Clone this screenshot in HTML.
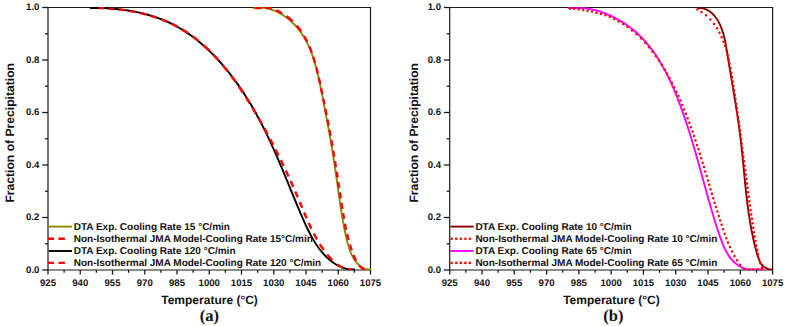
<!DOCTYPE html>
<html><head><meta charset="utf-8"><title>Fraction of Precipitation</title>
<style>
*{margin:0;padding:0}
html,body{width:787px;height:326px;overflow:hidden;background:#fff}
svg{display:block}
text{text-rendering:geometricPrecision}
.tk{font:bold 9.6px 'Liberation Sans', sans-serif;fill:#111}
.lg{font:bold 10px 'Liberation Sans', sans-serif;fill:#111}
.ti{font:bold 12px 'Liberation Sans', sans-serif;fill:#111}
.yt{font-size:12.15px}
.lb{font:bold 16.5px 'Liberation Serif', serif;fill:#111}
</style></head>
<body>
<svg width="787" height="326" viewBox="0 0 787 326">
<rect width="787" height="326" fill="#fff"/>
<path d="M48.00,7.50 H370.50 V270.00 H48.00 Z" fill="none" stroke="#1a1a1a" stroke-width="1.2"/>
<line x1="48.00" y1="270.00" x2="48.00" y2="274.60" stroke="#1a1a1a" stroke-width="1.3"/>
<text x="48.00" y="286.3" text-anchor="middle" class="tk">925</text>
<line x1="64.12" y1="270.00" x2="64.12" y2="272.80" stroke="#1a1a1a" stroke-width="1.3"/>
<line x1="80.25" y1="270.00" x2="80.25" y2="274.60" stroke="#1a1a1a" stroke-width="1.3"/>
<text x="80.25" y="286.3" text-anchor="middle" class="tk">940</text>
<line x1="96.38" y1="270.00" x2="96.38" y2="272.80" stroke="#1a1a1a" stroke-width="1.3"/>
<line x1="112.50" y1="270.00" x2="112.50" y2="274.60" stroke="#1a1a1a" stroke-width="1.3"/>
<text x="112.50" y="286.3" text-anchor="middle" class="tk">955</text>
<line x1="128.62" y1="270.00" x2="128.62" y2="272.80" stroke="#1a1a1a" stroke-width="1.3"/>
<line x1="144.75" y1="270.00" x2="144.75" y2="274.60" stroke="#1a1a1a" stroke-width="1.3"/>
<text x="144.75" y="286.3" text-anchor="middle" class="tk">970</text>
<line x1="160.88" y1="270.00" x2="160.88" y2="272.80" stroke="#1a1a1a" stroke-width="1.3"/>
<line x1="177.00" y1="270.00" x2="177.00" y2="274.60" stroke="#1a1a1a" stroke-width="1.3"/>
<text x="177.00" y="286.3" text-anchor="middle" class="tk">985</text>
<line x1="193.12" y1="270.00" x2="193.12" y2="272.80" stroke="#1a1a1a" stroke-width="1.3"/>
<line x1="209.25" y1="270.00" x2="209.25" y2="274.60" stroke="#1a1a1a" stroke-width="1.3"/>
<text x="209.25" y="286.3" text-anchor="middle" class="tk">1000</text>
<line x1="225.38" y1="270.00" x2="225.38" y2="272.80" stroke="#1a1a1a" stroke-width="1.3"/>
<line x1="241.50" y1="270.00" x2="241.50" y2="274.60" stroke="#1a1a1a" stroke-width="1.3"/>
<text x="241.50" y="286.3" text-anchor="middle" class="tk">1015</text>
<line x1="257.62" y1="270.00" x2="257.62" y2="272.80" stroke="#1a1a1a" stroke-width="1.3"/>
<line x1="273.75" y1="270.00" x2="273.75" y2="274.60" stroke="#1a1a1a" stroke-width="1.3"/>
<text x="273.75" y="286.3" text-anchor="middle" class="tk">1030</text>
<line x1="289.88" y1="270.00" x2="289.88" y2="272.80" stroke="#1a1a1a" stroke-width="1.3"/>
<line x1="306.00" y1="270.00" x2="306.00" y2="274.60" stroke="#1a1a1a" stroke-width="1.3"/>
<text x="306.00" y="286.3" text-anchor="middle" class="tk">1045</text>
<line x1="322.12" y1="270.00" x2="322.12" y2="272.80" stroke="#1a1a1a" stroke-width="1.3"/>
<line x1="338.25" y1="270.00" x2="338.25" y2="274.60" stroke="#1a1a1a" stroke-width="1.3"/>
<text x="338.25" y="286.3" text-anchor="middle" class="tk">1060</text>
<line x1="354.38" y1="270.00" x2="354.38" y2="272.80" stroke="#1a1a1a" stroke-width="1.3"/>
<line x1="370.50" y1="270.00" x2="370.50" y2="274.60" stroke="#1a1a1a" stroke-width="1.3"/>
<text x="370.50" y="286.3" text-anchor="middle" class="tk">1075</text>
<line x1="42.20" y1="270.00" x2="48.00" y2="270.00" stroke="#1a1a1a" stroke-width="1.3"/>
<text x="39.40" y="272.90" text-anchor="end" class="tk">0.0</text>
<line x1="45.00" y1="243.75" x2="48.00" y2="243.75" stroke="#1a1a1a" stroke-width="1.3"/>
<line x1="42.20" y1="217.50" x2="48.00" y2="217.50" stroke="#1a1a1a" stroke-width="1.3"/>
<text x="39.40" y="220.40" text-anchor="end" class="tk">0.2</text>
<line x1="45.00" y1="191.25" x2="48.00" y2="191.25" stroke="#1a1a1a" stroke-width="1.3"/>
<line x1="42.20" y1="165.00" x2="48.00" y2="165.00" stroke="#1a1a1a" stroke-width="1.3"/>
<text x="39.40" y="167.90" text-anchor="end" class="tk">0.4</text>
<line x1="45.00" y1="138.75" x2="48.00" y2="138.75" stroke="#1a1a1a" stroke-width="1.3"/>
<line x1="42.20" y1="112.50" x2="48.00" y2="112.50" stroke="#1a1a1a" stroke-width="1.3"/>
<text x="39.40" y="115.40" text-anchor="end" class="tk">0.6</text>
<line x1="45.00" y1="86.25" x2="48.00" y2="86.25" stroke="#1a1a1a" stroke-width="1.3"/>
<line x1="42.20" y1="60.00" x2="48.00" y2="60.00" stroke="#1a1a1a" stroke-width="1.3"/>
<text x="39.40" y="62.90" text-anchor="end" class="tk">0.8</text>
<line x1="45.00" y1="33.75" x2="48.00" y2="33.75" stroke="#1a1a1a" stroke-width="1.3"/>
<line x1="42.20" y1="7.50" x2="48.00" y2="7.50" stroke="#1a1a1a" stroke-width="1.3"/>
<text x="39.40" y="10.40" text-anchor="end" class="tk">1.0</text>
<clipPath id="clip48"><rect x="47.50" y="6.00" width="323.50" height="264.20"/></clipPath>
<g clip-path="url(#clip48)">
<path d="M252.89,8.10 L254.99,8.10 L257.05,8.10 L259.10,8.10 L261.11,8.10 L263.11,8.10 L265.07,8.10 L267.01,8.40 L268.92,8.86 L270.80,9.40 L272.64,10.02 L274.46,10.71 L276.25,11.47 L278.01,12.30 L279.73,13.20 L281.42,14.16 L283.08,15.18 L284.70,16.26 L286.28,17.40 L287.83,18.59 L289.35,19.83 L290.82,21.12 L292.26,22.45 L293.66,23.83 L295.01,25.25 L296.33,26.71 L297.61,28.20 L298.84,29.73 L300.03,31.29 L301.18,32.87 L302.29,34.49 L303.35,36.12 L304.36,37.78 L305.33,39.45 L306.26,41.14 L307.15,42.85 L308.00,44.58 L308.81,46.33 L309.59,48.09 L310.33,49.87 L311.05,51.66 L311.73,53.47 L312.39,55.29 L313.02,57.13 L313.62,58.98 L314.21,60.83 L314.77,62.70 L315.32,64.59 L315.85,66.48 L316.36,68.38 L316.85,70.29 L317.33,72.20 L317.80,74.13 L318.26,76.06 L318.70,77.99 L319.13,79.94 L319.55,81.88 L319.97,83.84 L320.37,85.79 L320.77,87.75 L321.16,89.71 L321.55,91.67 L321.93,93.63 L322.31,95.60 L322.69,97.56 L323.06,99.52 L323.44,101.48 L323.81,103.44 L324.18,105.40 L324.55,107.36 L324.93,109.31 L325.30,111.26 L325.67,113.21 L326.03,115.16 L326.40,117.11 L326.77,119.06 L327.13,121.00 L327.49,122.94 L327.85,124.88 L328.21,126.82 L328.57,128.76 L328.92,130.70 L329.27,132.64 L329.62,134.57 L329.96,136.51 L330.31,138.44 L330.64,140.37 L330.98,142.30 L331.31,144.23 L331.64,146.15 L331.97,148.08 L332.29,150.00 L332.61,151.93 L332.93,153.85 L333.24,155.77 L333.54,157.69 L333.84,159.61 L334.14,161.53 L334.43,163.45 L334.72,165.36 L335.00,167.28 L335.28,169.19 L335.56,171.11 L335.83,173.02 L336.10,174.94 L336.36,176.85 L336.63,178.76 L336.89,180.68 L337.16,182.59 L337.42,184.51 L337.68,186.43 L337.94,188.35 L338.21,190.27 L338.47,192.19 L338.74,194.11 L339.01,196.04 L339.29,197.97 L339.56,199.90 L339.85,201.83 L340.13,203.77 L340.42,205.71 L340.72,207.65 L341.02,209.60 L341.34,211.55 L341.65,213.50 L341.98,215.46 L342.31,217.42 L342.65,219.39 L343.00,221.36 L343.37,223.34 L343.74,225.32 L344.12,227.31 L344.51,229.30 L344.92,231.30 L345.33,233.31 L345.76,235.32 L346.21,237.33 L346.67,239.35 L347.16,241.35 L347.68,243.34 L348.23,245.31 L348.82,247.25 L349.45,249.16 L350.12,251.03 L350.85,252.86 L351.63,254.63 L352.48,256.35 L353.39,258.01 L354.37,259.60 L355.42,261.12 L356.55,262.55 L357.76,263.90 L359.06,265.16 L360.46,266.31 L361.94,267.32 L363.53,268.17 L365.23,268.84 L367.03,269.30 L368.95,269.50 L370.99,269.50" fill="none" stroke="#8a8a00" stroke-width="1.9" stroke-linejoin="round" />
<path d="M89.99,8.10 L92.55,8.10 L95.10,8.10 L97.65,8.10 L100.21,8.10 L102.76,8.10 L105.31,8.14 L107.86,8.31 L110.41,8.50 L112.95,8.71 L115.49,8.95 L118.03,9.21 L120.56,9.51 L123.08,9.83 L125.60,10.18 L128.10,10.56 L130.60,10.97 L133.09,11.41 L135.57,11.89 L138.04,12.40 L140.50,12.94 L142.94,13.52 L145.38,14.13 L147.80,14.78 L150.20,15.47 L152.59,16.20 L154.97,16.97 L157.32,17.78 L159.66,18.63 L161.99,19.52 L164.29,20.45 L166.58,21.43 L168.84,22.45 L171.09,23.52 L173.31,24.64 L175.51,25.80 L177.69,27.00 L179.86,28.24 L182.00,29.53 L184.12,30.85 L186.22,32.22 L188.29,33.62 L190.35,35.06 L192.39,36.53 L194.40,38.05 L196.40,39.59 L198.37,41.17 L200.32,42.79 L202.26,44.43 L204.17,46.11 L206.06,47.81 L207.93,49.55 L209.78,51.31 L211.60,53.10 L213.41,54.91 L215.20,56.75 L216.96,58.62 L218.71,60.51 L220.43,62.42 L222.13,64.35 L223.81,66.30 L225.47,68.27 L227.11,70.26 L228.73,72.27 L230.33,74.29 L231.90,76.33 L233.46,78.39 L234.99,80.46 L236.50,82.54 L238.00,84.63 L239.47,86.74 L240.92,88.85 L242.35,90.98 L243.75,93.11 L245.14,95.25 L246.51,97.40 L247.85,99.55 L249.17,101.70 L250.48,103.86 L251.76,106.03 L253.02,108.20 L254.27,110.37 L255.50,112.55 L256.71,114.74 L257.90,116.93 L259.08,119.12 L260.24,121.32 L261.39,123.53 L262.52,125.74 L263.64,127.95 L264.75,130.17 L265.84,132.40 L266.92,134.63 L267.99,136.86 L269.05,139.11 L270.10,141.35 L271.14,143.60 L272.17,145.86 L273.19,148.12 L274.20,150.39 L275.21,152.66 L276.21,154.94 L277.20,157.23 L278.19,159.51 L279.17,161.81 L280.15,164.11 L281.12,166.42 L282.09,168.73 L283.06,171.05 L284.03,173.37 L284.99,175.70 L285.96,178.03 L286.92,180.37 L287.89,182.72 L288.85,185.07 L289.82,187.43 L290.79,189.79 L291.76,192.17 L292.74,194.54 L293.72,196.92 L294.70,199.31 L295.69,201.71 L296.69,204.11 L297.69,206.51 L298.70,208.92 L299.71,211.34 L300.73,213.77 L301.77,216.19 L302.82,218.61 L303.88,221.03 L304.97,223.43 L306.07,225.82 L307.20,228.19 L308.35,230.54 L309.53,232.86 L310.74,235.15 L311.98,237.41 L313.26,239.63 L314.57,241.81 L315.92,243.94 L317.32,246.02 L318.76,248.05 L320.25,250.02 L321.78,251.93 L323.37,253.77 L325.01,255.54 L326.71,257.24 L328.47,258.87 L330.28,260.41 L332.16,261.87 L334.11,263.24 L336.13,264.50 L338.21,265.66 L340.37,266.71 L342.60,267.62 L344.92,268.41 L347.31,269.05 L349.78,269.50 L352.34,269.50 L354.99,269.50" fill="none" stroke="#000" stroke-width="1.9" stroke-linejoin="round" />
<path d="M255.33,8.10 L255.74,8.10 L256.17,8.10 L256.61,8.10 L257.04,8.10 L257.47,8.10 L257.90,8.10 L258.33,8.10 L258.75,8.10 L259.18,8.10 L259.61,8.10 L260.03,8.10 L260.45,8.10 L260.87,8.10 L261.30,8.10 M265.75,8.10 L266.16,8.10 L266.67,8.10 L267.18,8.10 L267.68,8.10 L268.18,8.10 L268.68,8.10 L269.18,8.11 L269.68,8.23 L270.17,8.35 L270.67,8.47 L271.16,8.60 L271.65,8.74 M276.17,10.31 L276.60,10.49 L277.07,10.69 L277.53,10.90 L277.99,11.11 L278.45,11.32 L278.90,11.54 L279.35,11.77 L279.81,12.00 L280.25,12.23 L280.70,12.47 L281.14,12.72 L281.58,12.97 L282.02,13.22 M286.59,16.23 L287.01,16.54 L287.49,16.91 L287.98,17.29 L288.46,17.67 L288.93,18.05 L289.40,18.44 L289.87,18.84 L290.33,19.24 L290.79,19.64 L291.25,20.05 L291.70,20.46 L292.15,20.88 L292.59,21.30 M296.74,25.71 L297.11,26.14 L297.50,26.60 L297.89,27.07 L298.27,27.55 L298.65,28.02 L299.02,28.50 L299.39,28.98 L299.75,29.46 L300.11,29.95 L300.46,30.44 L300.82,30.93 L301.16,31.43 M304.17,36.13 L304.39,36.50 L304.64,36.94 L304.89,37.37 L305.14,37.81 L305.38,38.25 L305.62,38.69 L305.86,39.13 L306.10,39.57 L306.33,40.02 L306.56,40.46 L306.79,40.91 L307.01,41.36 L307.24,41.81 M309.42,46.55 L309.58,46.94 L309.78,47.41 L309.97,47.87 L310.16,48.34 L310.35,48.81 L310.54,49.28 L310.73,49.75 L310.91,50.22 L311.09,50.70 L311.27,51.17 L311.45,51.65 L311.63,52.12 L311.78,52.55 M313.30,56.97 L313.45,57.43 L313.60,57.92 L313.76,58.41 L313.91,58.90 L314.06,59.39 L314.21,59.88 L314.36,60.37 L314.51,60.86 L314.65,61.35 L314.79,61.85 L314.94,62.34 L315.08,62.84 M316.32,67.39 L316.43,67.82 L316.55,68.32 L316.68,68.82 L316.81,69.32 L316.93,69.83 L317.06,70.33 L317.18,70.83 L317.31,71.34 L317.43,71.84 L317.55,72.34 L317.67,72.85 L317.79,73.35 M318.81,77.81 L318.92,78.31 L319.03,78.82 L319.15,79.33 L319.26,79.84 L319.37,80.34 L319.48,80.85 L319.59,81.36 L319.70,81.87 L319.81,82.37 L319.92,82.88 L320.03,83.39 L320.12,83.81 M321.06,88.23 L321.15,88.66 L321.25,89.17 L321.36,89.67 L321.47,90.18 L321.57,90.68 L321.68,91.19 L321.79,91.70 L321.89,92.20 L322.00,92.71 L322.10,93.21 L322.21,93.71 L322.32,94.22 M323.24,98.65 L323.33,99.06 L323.43,99.56 L323.53,100.06 L323.64,100.57 L323.74,101.07 L323.85,101.57 L323.95,102.07 L324.05,102.58 L324.16,103.08 L324.26,103.58 L324.36,104.08 L324.47,104.58 M325.38,109.07 L325.47,109.50 L325.57,110.00 L325.67,110.50 L325.77,111.00 L325.88,111.50 L325.98,112.00 L326.08,112.50 L326.18,113.00 L326.28,113.50 L326.38,114.00 L326.48,114.50 L326.58,115.00 M327.47,119.49 L327.55,119.90 L327.65,120.40 L327.74,120.90 L327.84,121.40 L327.94,121.89 L328.04,122.39 L328.13,122.89 L328.23,123.39 L328.33,123.89 L328.42,124.39 L328.52,124.89 L328.62,125.39 M329.48,129.91 L329.56,130.37 L329.66,130.87 L329.75,131.37 L329.85,131.87 L329.94,132.36 L330.03,132.86 L330.12,133.36 L330.22,133.86 L330.31,134.36 L330.40,134.86 L330.49,135.35 L330.59,135.85 M331.40,140.33 L331.47,140.73 L331.56,141.23 L331.65,141.73 L331.74,142.23 L331.83,142.73 L331.92,143.22 L332.00,143.72 L332.09,144.22 L332.18,144.72 L332.27,145.22 L332.35,145.72 L332.44,146.21 M333.22,150.75 L333.30,151.20 L333.38,151.70 L333.46,152.20 L333.55,152.70 L333.63,153.19 L333.72,153.69 L333.80,154.19 L333.88,154.69 L333.97,155.19 L334.05,155.69 L334.13,156.19 L334.22,156.69 M334.95,161.17 L335.02,161.58 L335.10,162.08 L335.18,162.58 L335.26,163.08 L335.34,163.58 L335.42,164.08 L335.50,164.58 L335.58,165.08 L335.66,165.58 L335.74,166.08 L335.82,166.59 L335.90,167.09 M336.62,171.59 L336.68,172.00 L336.76,172.50 L336.84,173.00 L336.92,173.50 L337.00,174.01 L337.08,174.51 L337.15,175.01 L337.23,175.51 L337.31,176.02 L337.39,176.52 L337.47,177.02 L337.55,177.53 M338.24,182.01 L338.31,182.46 L338.39,182.97 L338.47,183.47 L338.55,183.98 L338.62,184.48 L338.70,184.99 L338.78,185.49 L338.86,186.00 L338.94,186.50 L339.01,187.01 L339.09,187.51 L339.17,188.01 M339.85,192.43 L339.92,192.88 L340.00,193.39 L340.08,193.90 L340.16,194.41 L340.23,194.92 L340.31,195.43 L340.39,195.93 L340.47,196.44 L340.55,196.95 L340.63,197.46 L340.71,197.97 L340.78,198.43 M341.47,202.85 L341.53,203.28 L341.61,203.79 L341.69,204.30 L341.77,204.82 L341.85,205.33 L341.93,205.84 L342.01,206.35 L342.09,206.87 L342.17,207.38 L342.26,207.89 L342.34,208.41 L342.41,208.85 M343.12,213.27 L343.20,213.75 L343.29,214.26 L343.37,214.78 L343.46,215.29 L343.54,215.80 L343.63,216.32 L343.72,216.83 L343.81,217.34 L343.90,217.86 L343.98,218.37 L344.07,218.88 M344.95,223.69 L345.03,224.10 L345.13,224.61 L345.23,225.12 L345.33,225.63 L345.43,226.14 L345.53,226.65 L345.63,227.16 L345.73,227.67 L345.84,228.17 L345.94,228.68 L346.05,229.19 L346.16,229.69 M347.14,234.11 L347.24,234.53 L347.36,235.03 L347.48,235.53 L347.60,236.03 L347.72,236.53 L347.84,237.03 L347.97,237.53 L348.09,238.03 L348.22,238.52 L348.35,239.02 L348.48,239.51 L348.61,240.01 M349.89,244.53 L350.03,245.01 L350.18,245.49 L350.33,245.97 L350.48,246.46 L350.64,246.94 L350.79,247.42 L350.95,247.90 L351.10,248.38 L351.26,248.86 L351.43,249.34 L351.59,249.82 L351.75,250.29 M353.48,254.95 L353.65,255.36 L353.84,255.83 L354.03,256.29 L354.22,256.75 L354.41,257.21 L354.60,257.66 L354.80,258.12 L355.01,258.57 L355.21,259.02 L355.42,259.47 L355.63,259.91 L355.85,260.35 L356.07,260.78 M359.06,265.37 L359.39,265.75 L359.77,266.16 L360.17,266.56 L360.57,266.94 L360.99,267.31 L361.43,267.66 L361.88,268.00 L362.34,268.32 L362.83,268.62 L363.32,268.90 L363.84,269.17 L364.37,269.42 L364.93,269.50" fill="none" stroke="#ff0000" stroke-width="2.4" stroke-linejoin="round"/>
<path d="M98.40,8.10 L98.78,8.10 L99.16,8.10 L99.55,8.10 L99.93,8.10 L100.31,8.10 L100.69,8.10 L101.08,8.10 L101.46,8.10 L101.84,8.11 L102.23,8.12 L102.61,8.14 L103.00,8.15 L103.38,8.17 L103.77,8.19 L104.15,8.21 M108.67,8.47 L109.17,8.50 L109.69,8.54 L110.20,8.58 L110.72,8.62 L111.24,8.66 L111.76,8.70 L112.27,8.74 L112.79,8.79 L113.31,8.83 L113.83,8.88 L114.34,8.93 M119.17,9.44 L119.66,9.50 L120.18,9.56 L120.70,9.62 L121.22,9.69 L121.74,9.75 L122.26,9.82 L122.78,9.89 L123.30,9.96 L123.81,10.03 L124.33,10.11 L124.85,10.18 M129.67,10.94 L130.17,11.03 L130.68,11.12 L131.20,11.21 L131.72,11.30 L132.24,11.40 L132.75,11.49 L133.27,11.59 L133.78,11.69 L134.30,11.79 L134.82,11.89 L135.33,11.99 M140.17,13.03 L140.60,13.13 L141.11,13.25 L141.62,13.37 L142.13,13.50 L142.64,13.62 L143.15,13.75 L143.66,13.87 L144.17,14.00 L144.68,14.13 L145.19,14.26 L145.70,14.40 L146.17,14.52 M150.67,15.79 L151.12,15.93 L151.62,16.08 L152.12,16.23 L152.62,16.39 L153.12,16.54 L153.62,16.70 L154.12,16.86 L154.62,17.02 L155.12,17.18 L155.61,17.35 L156.11,17.51 L156.60,17.68 M161.17,19.32 L161.63,19.49 L162.11,19.68 L162.60,19.87 L163.08,20.06 L163.57,20.25 L164.05,20.44 L164.53,20.64 L165.01,20.83 L165.49,21.03 L165.97,21.23 L166.45,21.43 L166.93,21.64 M171.67,23.78 L172.11,23.99 L172.58,24.21 L173.04,24.44 L173.50,24.66 L173.97,24.89 L174.43,25.13 L174.89,25.36 L175.34,25.59 L175.80,25.83 L176.26,26.07 L176.71,26.31 L177.17,26.55 L177.62,26.80 M182.17,29.39 L182.52,29.60 L182.96,29.86 L183.40,30.13 L183.83,30.40 L184.27,30.67 L184.70,30.94 L185.14,31.22 L185.57,31.49 L186.00,31.77 L186.43,32.05 L186.86,32.33 L187.28,32.62 L187.71,32.90 L188.13,33.19 M192.67,36.39 L193.15,36.74 L193.66,37.13 L194.17,37.51 L194.68,37.90 L195.19,38.29 L195.69,38.69 L196.20,39.08 L196.70,39.48 L197.20,39.88 L197.70,40.28 L198.20,40.69 L198.67,41.07 M203.17,44.92 L203.57,45.28 L204.05,45.71 L204.53,46.14 L205.00,46.58 L205.48,47.01 L205.95,47.45 L206.42,47.89 L206.89,48.33 L207.36,48.78 L207.83,49.22 L208.29,49.67 L208.75,50.12 L209.17,50.53 M213.59,55.02 L214.03,55.47 L214.47,55.95 L214.92,56.42 L215.36,56.89 L215.80,57.37 L216.24,57.85 L216.68,58.33 L217.12,58.81 L217.55,59.30 L217.99,59.78 L218.42,60.27 L218.85,60.76 M222.93,65.52 L223.27,65.92 L223.68,66.42 L224.10,66.93 L224.51,67.44 L224.93,67.94 L225.34,68.45 L225.75,68.96 L226.16,69.47 L226.57,69.99 L226.97,70.50 L227.38,71.02 L227.77,71.52 M231.22,76.02 L231.46,76.34 L231.77,76.76 L232.08,77.18 L232.40,77.60 L232.71,78.03 L233.02,78.45 L233.33,78.88 L233.64,79.30 L233.95,79.73 L234.26,80.15 L234.57,80.58 L234.88,81.01 L235.18,81.44 L235.49,81.86 M238.75,86.52 L239.04,86.94 L239.33,87.37 L239.63,87.81 L239.93,88.24 L240.22,88.68 L240.52,89.11 L240.81,89.55 L241.11,89.99 L241.40,90.42 L241.69,90.86 L241.99,91.30 L242.28,91.74 L242.57,92.18 L242.79,92.52 M245.73,97.02 L245.95,97.35 L246.23,97.79 L246.51,98.24 L246.79,98.68 L247.08,99.12 L247.36,99.56 L247.64,100.01 L247.92,100.45 L248.20,100.89 L248.48,101.34 L248.76,101.78 L249.04,102.22 L249.31,102.67 L249.53,103.02 M252.31,107.52 L252.54,107.90 L252.81,108.34 L253.08,108.79 L253.35,109.24 L253.62,109.68 L253.89,110.13 L254.16,110.58 L254.43,111.02 L254.69,111.47 L254.96,111.92 L255.23,112.37 L255.49,112.81 L255.76,113.26 M258.54,118.02 L258.78,118.42 L259.04,118.87 L259.30,119.32 L259.56,119.77 L259.82,120.22 L260.07,120.67 L260.33,121.12 L260.59,121.57 L260.84,122.03 L261.10,122.48 L261.36,122.93 L261.61,123.38 L261.87,123.83 M264.48,128.52 L264.70,128.92 L264.95,129.37 L265.20,129.82 L265.45,130.27 L265.70,130.73 L265.94,131.18 L266.19,131.63 L266.44,132.09 L266.68,132.54 L266.93,133.00 L267.18,133.45 L267.42,133.90 L267.67,134.36 M270.15,139.02 L270.33,139.36 L270.57,139.81 L270.81,140.27 L271.05,140.73 L271.29,141.18 L271.53,141.64 L271.77,142.09 L272.00,142.55 L272.24,143.00 L272.48,143.46 L272.72,143.92 L272.95,144.37 L273.19,144.83 M275.59,149.52 L275.82,149.97 L276.05,150.43 L276.28,150.89 L276.51,151.35 L276.74,151.80 L276.97,152.26 L277.20,152.72 L277.43,153.18 L277.66,153.64 L277.89,154.10 L278.12,154.56 L278.35,155.01 L278.57,155.47 M280.81,160.02 L281.00,160.42 L281.23,160.88 L281.45,161.34 L281.68,161.81 L281.90,162.27 L282.12,162.73 L282.34,163.19 L282.57,163.65 L282.79,164.12 L283.01,164.58 L283.23,165.04 L283.45,165.50 L283.67,165.97 M285.82,170.52 L286.03,170.96 L286.25,171.43 L286.47,171.90 L286.68,172.36 L286.90,172.83 L287.12,173.30 L287.33,173.76 L287.55,174.23 L287.77,174.70 L287.98,175.17 L288.20,175.63 L288.41,176.10 L288.60,176.52 M290.65,181.02 L290.82,181.39 L291.03,181.86 L291.24,182.34 L291.45,182.81 L291.66,183.28 L291.88,183.75 L292.09,184.23 L292.30,184.70 L292.51,185.17 L292.72,185.65 L292.93,186.12 L293.14,186.60 L293.32,187.02 M295.29,191.52 L295.49,191.96 L295.70,192.44 L295.90,192.92 L296.11,193.40 L296.32,193.88 L296.53,194.36 L296.73,194.84 L296.94,195.32 L297.15,195.81 L297.35,196.29 L297.56,196.77 L297.76,197.25 M299.78,202.02 L299.97,202.46 L300.17,202.95 L300.38,203.44 L300.58,203.93 L300.78,204.41 L300.99,204.90 L301.19,205.39 L301.40,205.88 L301.60,206.37 L301.80,206.86 L302.01,207.35 L302.21,207.83 M304.17,212.52 L304.37,212.98 L304.57,213.47 L304.78,213.95 L304.99,214.44 L305.20,214.93 L305.41,215.42 L305.62,215.91 L305.83,216.40 L306.04,216.89 L306.25,217.38 L306.46,217.86 L306.67,218.35 M308.74,223.02 L308.93,223.45 L309.15,223.93 L309.37,224.41 L309.59,224.89 L309.81,225.37 L310.04,225.85 L310.26,226.33 L310.49,226.81 L310.71,227.29 L310.94,227.77 L311.17,228.24 L311.40,228.72 M313.79,233.52 L313.99,233.90 L314.23,234.37 L314.47,234.83 L314.72,235.30 L314.97,235.76 L315.21,236.22 L315.46,236.68 L315.71,237.14 L315.97,237.60 L316.22,238.06 L316.47,238.51 L316.73,238.97 L316.99,239.42 M319.74,244.02 L320.00,244.44 L320.28,244.87 L320.56,245.31 L320.84,245.74 L321.13,246.18 L321.41,246.61 L321.70,247.04 L321.99,247.46 L322.28,247.89 L322.57,248.32 L322.87,248.74 L323.17,249.16 L323.46,249.58 L323.77,250.00 M327.24,254.52 L327.63,254.98 L328.04,255.47 L328.45,255.96 L328.87,256.44 L329.30,256.92 L329.72,257.40 L330.16,257.88 L330.59,258.35 L331.03,258.81 L331.47,259.27 L331.92,259.73 L332.37,260.18 M337.21,264.36 L337.53,264.60 L337.93,264.88 L338.33,265.17 L338.74,265.44 L339.16,265.71 L339.57,265.98 L339.99,266.23 L340.41,266.48 L340.84,266.73 L341.27,266.96 L341.70,267.19 L342.14,267.41 L342.57,267.62 L343.02,267.83 M347.71,269.43 L348.00,269.49 L348.36,269.50 L348.73,269.50 L349.10,269.50 L349.47,269.50 L349.84,269.50 L350.21,269.50 L350.59,269.50 L350.97,269.50 L351.35,269.50 L351.73,269.50" fill="none" stroke="#ff0000" stroke-width="2.4" stroke-linejoin="round"/>
</g>
<line x1="48.60" y1="226.60" x2="72.00" y2="226.60" stroke="#8a8a00" stroke-width="1.9"/>
<text x="73.70" y="230.00" class="lg">DTA Exp. Cooling Rate 15 °C/min</text>
<path d="M48.00,238.80 h6 M58.50,238.80 h6.4" stroke="#ff0000" stroke-width="2.4"/>
<text x="73.70" y="242.20" class="lg">Non-Isothermal JMA Model-Cooling Rate 15°C/min</text>
<line x1="48.60" y1="251.00" x2="72.00" y2="251.00" stroke="#000" stroke-width="1.9"/>
<text x="73.70" y="254.40" class="lg">DTA Exp. Cooling Rate 120 °C/min</text>
<path d="M48.00,262.90 h6 M58.50,262.90 h6.4" stroke="#ff0000" stroke-width="2.4"/>
<text x="73.70" y="266.30" class="lg">Non-Isothermal JMA Model-Cooling Rate 120 °C/min</text>
<text x="209.55" y="303.6" text-anchor="middle" class="ti">Temperature (°C)</text>
<text transform="translate(14.20,132.8) rotate(-90)" text-anchor="middle" class="ti yt">Fraction of Precipitation</text>
<text x="209.35" y="320.5" text-anchor="middle" class="lb">(a)</text>
<path d="M449.70,7.50 H772.60 V270.00 H449.70 Z" fill="none" stroke="#1a1a1a" stroke-width="1.2"/>
<line x1="449.70" y1="270.00" x2="449.70" y2="274.60" stroke="#1a1a1a" stroke-width="1.3"/>
<text x="449.70" y="286.3" text-anchor="middle" class="tk">925</text>
<line x1="465.84" y1="270.00" x2="465.84" y2="272.80" stroke="#1a1a1a" stroke-width="1.3"/>
<line x1="481.99" y1="270.00" x2="481.99" y2="274.60" stroke="#1a1a1a" stroke-width="1.3"/>
<text x="481.99" y="286.3" text-anchor="middle" class="tk">940</text>
<line x1="498.13" y1="270.00" x2="498.13" y2="272.80" stroke="#1a1a1a" stroke-width="1.3"/>
<line x1="514.28" y1="270.00" x2="514.28" y2="274.60" stroke="#1a1a1a" stroke-width="1.3"/>
<text x="514.28" y="286.3" text-anchor="middle" class="tk">955</text>
<line x1="530.42" y1="270.00" x2="530.42" y2="272.80" stroke="#1a1a1a" stroke-width="1.3"/>
<line x1="546.57" y1="270.00" x2="546.57" y2="274.60" stroke="#1a1a1a" stroke-width="1.3"/>
<text x="546.57" y="286.3" text-anchor="middle" class="tk">970</text>
<line x1="562.72" y1="270.00" x2="562.72" y2="272.80" stroke="#1a1a1a" stroke-width="1.3"/>
<line x1="578.86" y1="270.00" x2="578.86" y2="274.60" stroke="#1a1a1a" stroke-width="1.3"/>
<text x="578.86" y="286.3" text-anchor="middle" class="tk">985</text>
<line x1="595.00" y1="270.00" x2="595.00" y2="272.80" stroke="#1a1a1a" stroke-width="1.3"/>
<line x1="611.15" y1="270.00" x2="611.15" y2="274.60" stroke="#1a1a1a" stroke-width="1.3"/>
<text x="611.15" y="286.3" text-anchor="middle" class="tk">1000</text>
<line x1="627.30" y1="270.00" x2="627.30" y2="272.80" stroke="#1a1a1a" stroke-width="1.3"/>
<line x1="643.44" y1="270.00" x2="643.44" y2="274.60" stroke="#1a1a1a" stroke-width="1.3"/>
<text x="643.44" y="286.3" text-anchor="middle" class="tk">1015</text>
<line x1="659.59" y1="270.00" x2="659.59" y2="272.80" stroke="#1a1a1a" stroke-width="1.3"/>
<line x1="675.73" y1="270.00" x2="675.73" y2="274.60" stroke="#1a1a1a" stroke-width="1.3"/>
<text x="675.73" y="286.3" text-anchor="middle" class="tk">1030</text>
<line x1="691.88" y1="270.00" x2="691.88" y2="272.80" stroke="#1a1a1a" stroke-width="1.3"/>
<line x1="708.02" y1="270.00" x2="708.02" y2="274.60" stroke="#1a1a1a" stroke-width="1.3"/>
<text x="708.02" y="286.3" text-anchor="middle" class="tk">1045</text>
<line x1="724.16" y1="270.00" x2="724.16" y2="272.80" stroke="#1a1a1a" stroke-width="1.3"/>
<line x1="740.31" y1="270.00" x2="740.31" y2="274.60" stroke="#1a1a1a" stroke-width="1.3"/>
<text x="740.31" y="286.3" text-anchor="middle" class="tk">1060</text>
<line x1="756.46" y1="270.00" x2="756.46" y2="272.80" stroke="#1a1a1a" stroke-width="1.3"/>
<line x1="772.60" y1="270.00" x2="772.60" y2="274.60" stroke="#1a1a1a" stroke-width="1.3"/>
<text x="772.60" y="286.3" text-anchor="middle" class="tk">1075</text>
<line x1="443.90" y1="270.00" x2="449.70" y2="270.00" stroke="#1a1a1a" stroke-width="1.3"/>
<text x="441.10" y="272.90" text-anchor="end" class="tk">0.0</text>
<line x1="446.70" y1="243.75" x2="449.70" y2="243.75" stroke="#1a1a1a" stroke-width="1.3"/>
<line x1="443.90" y1="217.50" x2="449.70" y2="217.50" stroke="#1a1a1a" stroke-width="1.3"/>
<text x="441.10" y="220.40" text-anchor="end" class="tk">0.2</text>
<line x1="446.70" y1="191.25" x2="449.70" y2="191.25" stroke="#1a1a1a" stroke-width="1.3"/>
<line x1="443.90" y1="165.00" x2="449.70" y2="165.00" stroke="#1a1a1a" stroke-width="1.3"/>
<text x="441.10" y="167.90" text-anchor="end" class="tk">0.4</text>
<line x1="446.70" y1="138.75" x2="449.70" y2="138.75" stroke="#1a1a1a" stroke-width="1.3"/>
<line x1="443.90" y1="112.50" x2="449.70" y2="112.50" stroke="#1a1a1a" stroke-width="1.3"/>
<text x="441.10" y="115.40" text-anchor="end" class="tk">0.6</text>
<line x1="446.70" y1="86.25" x2="449.70" y2="86.25" stroke="#1a1a1a" stroke-width="1.3"/>
<line x1="443.90" y1="60.00" x2="449.70" y2="60.00" stroke="#1a1a1a" stroke-width="1.3"/>
<text x="441.10" y="62.90" text-anchor="end" class="tk">0.8</text>
<line x1="446.70" y1="33.75" x2="449.70" y2="33.75" stroke="#1a1a1a" stroke-width="1.3"/>
<line x1="443.90" y1="7.50" x2="449.70" y2="7.50" stroke="#1a1a1a" stroke-width="1.3"/>
<text x="441.10" y="10.40" text-anchor="end" class="tk">1.0</text>
<clipPath id="clip449"><rect x="449.20" y="6.00" width="323.90" height="264.20"/></clipPath>
<g clip-path="url(#clip449)">
<path d="M697.40,8.10 L699.42,8.10 L701.33,8.10 L703.15,8.31 L704.87,8.87 L706.50,9.56 L708.04,10.38 L709.49,11.30 L710.86,12.32 L712.16,13.44 L713.37,14.65 L714.51,15.93 L715.59,17.27 L716.59,18.68 L717.53,20.13 L718.41,21.63 L719.23,23.16 L719.99,24.73 L720.70,26.33 L721.37,27.96 L721.98,29.62 L722.56,31.31 L723.09,33.03 L723.59,34.76 L724.05,36.52 L724.48,38.30 L724.89,40.09 L725.26,41.89 L725.62,43.71 L725.96,45.54 L726.28,47.37 L726.59,49.21 L726.89,51.05 L727.19,52.89 L727.48,54.73 L727.77,56.57 L728.06,58.40 L728.35,60.23 L728.65,62.05 L728.94,63.87 L729.24,65.68 L729.54,67.49 L729.84,69.29 L730.14,71.09 L730.44,72.89 L730.74,74.68 L731.04,76.47 L731.34,78.26 L731.64,80.04 L731.94,81.82 L732.23,83.60 L732.53,85.37 L732.83,87.15 L733.13,88.92 L733.42,90.69 L733.72,92.45 L734.01,94.22 L734.31,95.98 L734.60,97.75 L734.89,99.51 L735.17,101.27 L735.46,103.03 L735.74,104.79 L736.02,106.55 L736.30,108.31 L736.58,110.07 L736.85,111.83 L737.12,113.59 L737.39,115.35 L737.65,117.11 L737.92,118.87 L738.17,120.64 L738.43,122.40 L738.68,124.17 L738.92,125.94 L739.17,127.71 L739.41,129.48 L739.64,131.25 L739.87,133.03 L740.10,134.81 L740.32,136.59 L740.53,138.37 L740.74,140.16 L740.95,141.95 L741.16,143.74 L741.35,145.54 L741.55,147.33 L741.74,149.13 L741.93,150.94 L742.12,152.74 L742.31,154.54 L742.49,156.35 L742.67,158.16 L742.85,159.97 L743.03,161.78 L743.21,163.59 L743.38,165.41 L743.56,167.22 L743.74,169.04 L743.91,170.85 L744.09,172.67 L744.27,174.49 L744.44,176.30 L744.62,178.12 L744.80,179.94 L744.99,181.76 L745.17,183.57 L745.36,185.39 L745.55,187.21 L745.74,189.02 L745.93,190.84 L746.13,192.65 L746.33,194.47 L746.54,196.28 L746.75,198.09 L746.97,199.90 L747.19,201.71 L747.41,203.52 L747.64,205.32 L747.87,207.13 L748.12,208.93 L748.36,210.73 L748.62,212.53 L748.88,214.32 L749.14,216.12 L749.42,217.91 L749.70,219.70 L749.99,221.48 L750.29,223.26 L750.59,225.04 L750.91,226.82 L751.23,228.59 L751.56,230.36 L751.90,232.13 L752.25,233.89 L752.62,235.65 L752.99,237.41 L753.37,239.16 L753.76,240.91 L754.16,242.65 L754.58,244.39 L755.00,246.12 L755.44,247.85 L755.89,249.58 L756.36,251.30 L756.83,253.01 L757.32,254.72 L757.83,256.41 L758.39,258.07 L759.01,259.68 L759.70,261.22 L760.48,262.68 L761.37,264.04 L762.39,265.29 L763.54,266.41 L764.85,267.39 L766.34,268.20 L768.01,268.84 L769.89,269.28 L771.99,269.50" fill="none" stroke="#8b0000" stroke-width="1.9" stroke-linejoin="round" />
<path d="M568.30,8.10 L570.55,8.10 L572.81,8.10 L575.06,8.10 L577.31,8.10 L579.55,8.10 L581.79,8.10 L584.03,8.10 L586.26,8.33 L588.48,8.71 L590.69,9.14 L592.89,9.63 L595.08,10.18 L597.26,10.78 L599.43,11.43 L601.58,12.14 L603.72,12.90 L605.83,13.70 L607.93,14.56 L610.02,15.47 L612.08,16.42 L614.12,17.42 L616.14,18.47 L618.13,19.56 L620.10,20.70 L622.04,21.88 L623.96,23.10 L625.85,24.36 L627.71,25.66 L629.54,27.00 L631.34,28.38 L633.11,29.79 L634.84,31.24 L636.54,32.73 L638.20,34.25 L639.83,35.80 L641.42,37.39 L642.98,39.01 L644.51,40.66 L646.00,42.33 L647.46,44.04 L648.89,45.77 L650.28,47.53 L651.65,49.32 L652.99,51.13 L654.30,52.96 L655.58,54.82 L656.83,56.70 L658.06,58.60 L659.26,60.51 L660.43,62.45 L661.58,64.41 L662.71,66.38 L663.81,68.37 L664.89,70.37 L665.95,72.39 L666.98,74.42 L668.00,76.46 L668.99,78.51 L669.97,80.58 L670.92,82.65 L671.86,84.73 L672.78,86.82 L673.68,88.91 L674.57,91.01 L675.44,93.12 L676.30,95.23 L677.14,97.34 L677.97,99.45 L678.79,101.56 L679.59,103.67 L680.38,105.79 L681.16,107.90 L681.93,110.01 L682.69,112.13 L683.44,114.24 L684.17,116.36 L684.90,118.48 L685.62,120.59 L686.33,122.71 L687.03,124.83 L687.72,126.96 L688.40,129.08 L689.08,131.20 L689.75,133.33 L690.41,135.46 L691.07,137.59 L691.72,139.72 L692.36,141.86 L693.00,143.99 L693.63,146.13 L694.26,148.28 L694.88,150.42 L695.50,152.57 L696.12,154.72 L696.73,156.87 L697.34,159.03 L697.95,161.19 L698.56,163.35 L699.16,165.52 L699.76,167.69 L700.36,169.86 L700.97,172.04 L701.57,174.22 L702.17,176.41 L702.77,178.59 L703.37,180.79 L703.97,182.98 L704.58,185.18 L705.18,187.39 L705.79,189.59 L706.41,191.80 L707.02,194.01 L707.64,196.22 L708.26,198.44 L708.89,200.65 L709.52,202.87 L710.15,205.08 L710.79,207.30 L711.44,209.52 L712.09,211.73 L712.75,213.95 L713.41,216.16 L714.08,218.37 L714.76,220.58 L715.45,222.79 L716.14,225.00 L716.85,227.20 L717.56,229.41 L718.28,231.60 L719.01,233.80 L719.76,235.98 L720.52,238.16 L721.31,240.31 L722.12,242.44 L722.97,244.54 L723.86,246.60 L724.79,248.61 L725.78,250.58 L726.81,252.50 L727.91,254.35 L729.08,256.13 L730.31,257.84 L731.63,259.48 L733.02,261.02 L734.50,262.48 L736.07,263.84 L737.74,265.10 L739.51,266.25 L741.39,267.28 L743.36,268.20 L745.42,268.98 L747.55,269.50 L749.76,269.50 L752.03,269.50 L754.35,269.50 L756.72,269.50 L759.12,269.50 L761.55,269.50 L764.00,269.50" fill="none" stroke="#ff00ff" stroke-width="1.9" stroke-linejoin="round" />
<path d="M697.41,9.58 h0.01 M701.54,12.01 h0.01 M705.97,15.32 h0.01 M710.34,19.51 h0.01 M714.01,23.94 h0.01 M717.00,28.37 h0.01 M719.49,32.80 h0.01 M721.61,37.23 h0.01 M723.43,41.66 h0.01 M725.01,46.09 h0.01 M726.38,50.52 h0.01 M727.58,54.95 h0.01 M728.64,59.38 h0.01 M729.58,63.81 h0.01 M730.44,68.24 h0.01 M731.24,72.67 h0.01 M731.99,77.10 h0.01 M732.71,81.53 h0.01 M733.42,85.96 h0.01 M734.12,90.39 h0.01 M734.80,94.82 h0.01 M735.47,99.25 h0.01 M736.13,103.68 h0.01 M736.78,108.11 h0.01 M737.42,112.54 h0.01 M738.05,116.97 h0.01 M738.67,121.40 h0.01 M739.29,125.83 h0.01 M739.90,130.26 h0.01 M740.50,134.69 h0.01 M741.10,139.12 h0.01 M741.69,143.55 h0.01 M742.28,147.98 h0.01 M742.87,152.41 h0.01 M743.45,156.84 h0.01 M744.04,161.27 h0.01 M744.62,165.70 h0.01 M745.20,170.13 h0.01 M745.79,174.56 h0.01 M746.37,178.99 h0.01 M746.96,183.42 h0.01 M747.56,187.85 h0.01 M748.16,192.28 h0.01 M748.76,196.71 h0.01 M749.37,201.14 h0.01 M749.99,205.57 h0.01 M750.61,210.00 h0.01 M751.25,214.43 h0.01 M751.90,218.86 h0.01 M752.57,223.29 h0.01 M753.27,227.72 h0.01 M753.99,232.15 h0.01 M754.74,236.58 h0.01 M755.52,241.01 h0.01 M756.34,245.44 h0.01 M757.20,249.87 h0.01 M758.11,254.30 h0.01 M759.13,258.73 h0.01 M760.36,263.16 h0.01 M761.89,267.59 h0.01" fill="none" stroke="#ff0000" stroke-width="2.5" stroke-linecap="round"/>
<path d="M569.83,8.51 h0.01 M574.27,8.85 h0.01 M578.71,9.32 h0.01 M583.15,9.92 h0.01 M587.59,10.66 h0.01 M592.03,11.56 h0.01 M596.47,12.63 h0.01 M600.91,13.89 h0.01 M605.35,15.36 h0.01 M609.79,17.07 h0.01 M614.23,19.07 h0.01 M618.67,21.38 h0.01 M623.11,24.02 h0.01 M627.55,27.01 h0.01 M631.99,30.38 h0.01 M636.43,34.15 h0.01 M640.87,38.35 h0.01 M645.11,42.79 h0.01 M648.98,47.23 h0.01 M652.53,51.67 h0.01 M655.84,56.11 h0.01 M658.92,60.55 h0.01 M661.82,64.99 h0.01 M664.55,69.43 h0.01 M667.14,73.87 h0.01 M669.60,78.31 h0.01 M671.96,82.75 h0.01 M674.21,87.19 h0.01 M676.36,91.63 h0.01 M678.43,96.07 h0.01 M680.42,100.51 h0.01 M682.33,104.95 h0.01 M684.17,109.39 h0.01 M685.95,113.83 h0.01 M687.67,118.27 h0.01 M689.33,122.71 h0.01 M690.95,127.15 h0.01 M692.52,131.59 h0.01 M694.04,136.03 h0.01 M695.53,140.47 h0.01 M696.99,144.91 h0.01 M698.42,149.35 h0.01 M699.82,153.79 h0.01 M701.21,158.23 h0.01 M702.57,162.67 h0.01 M703.93,167.11 h0.01 M705.27,171.55 h0.01 M706.60,175.99 h0.01 M707.93,180.43 h0.01 M709.25,184.87 h0.01 M710.58,189.31 h0.01 M711.91,193.75 h0.01 M713.25,198.19 h0.01 M714.60,202.63 h0.01 M715.96,207.07 h0.01 M717.34,211.51 h0.01 M718.74,215.95 h0.01 M720.16,220.39 h0.01 M721.61,224.83 h0.01 M723.10,229.27 h0.01 M724.66,233.71 h0.01 M726.31,238.15 h0.01 M728.07,242.59 h0.01 M729.98,247.03 h0.01 M732.08,251.47 h0.01 M734.42,255.91 h0.01 M737.08,260.35 h0.01 M740.17,264.79 h0.01 M744.36,268.77 h0.01 M748.80,269.50 h0.01 M753.24,269.50 h0.01 M757.68,269.50 h0.01 M762.12,269.50 h0.01" fill="none" stroke="#ff0000" stroke-width="2.5" stroke-linecap="round"/>
</g>
<line x1="450.30" y1="226.60" x2="473.70" y2="226.60" stroke="#8b0000" stroke-width="1.9"/>
<text x="475.40" y="230.00" class="lg">DTA Exp. Cooling Rate 10 °C/min</text>
<line x1="451.70" y1="238.80" x2="473.70" y2="238.80" stroke="#ff0000" stroke-width="2.6" stroke-dasharray="0 4.55" stroke-linecap="round"/>
<text x="475.40" y="242.20" class="lg">Non-Isothermal JMA Model-Cooling Rate 10 °C/min</text>
<line x1="450.30" y1="251.00" x2="473.70" y2="251.00" stroke="#ff00ff" stroke-width="1.9"/>
<text x="475.40" y="254.40" class="lg">DTA Exp. Cooling Rate 65 °C/min</text>
<line x1="451.70" y1="262.90" x2="473.70" y2="262.90" stroke="#ff0000" stroke-width="2.6" stroke-dasharray="0 4.55" stroke-linecap="round"/>
<text x="475.40" y="266.30" class="lg">Non-Isothermal JMA Model-Cooling Rate 65 °C/min</text>
<text x="611.45" y="303.6" text-anchor="middle" class="ti">Temperature (°C)</text>
<text transform="translate(418.40,132.8) rotate(-90)" text-anchor="middle" class="ti yt">Fraction of Precipitation</text>
<text x="613.35" y="320.5" text-anchor="middle" class="lb">(b)</text>
</svg>
</body></html>
